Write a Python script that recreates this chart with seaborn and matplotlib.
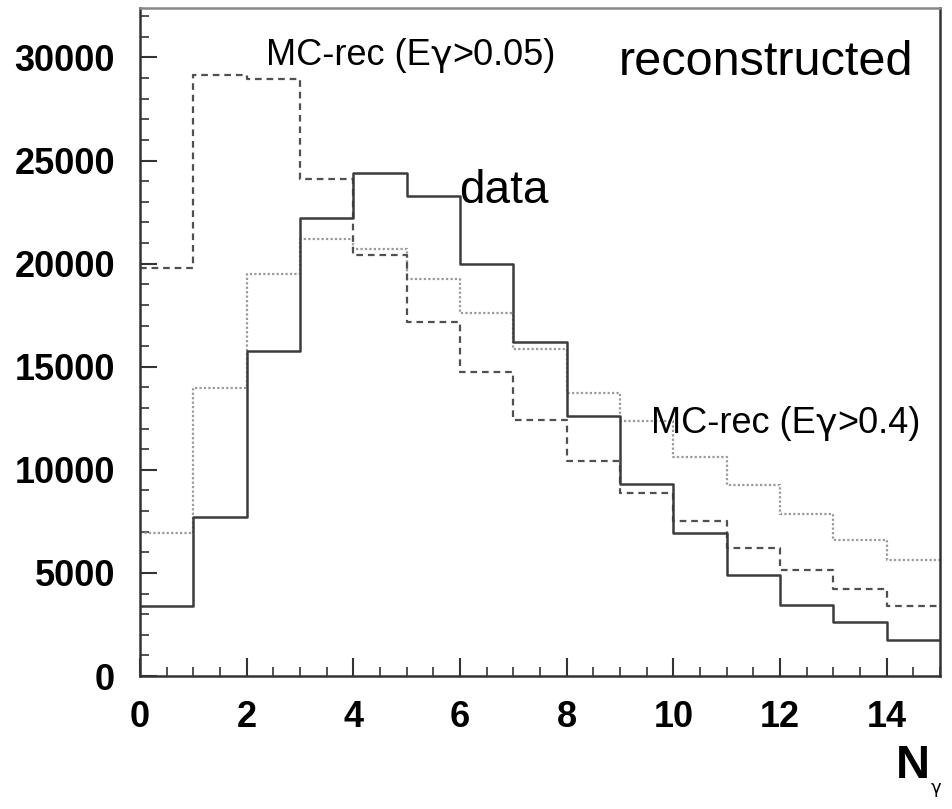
import numpy as np
import pandas as pd
import seaborn as sns
import matplotlib.pyplot as plt
from matplotlib.ticker import MultipleLocator

# bin contents, bins of width 1 from 0 to 15
edges = list(range(16))
n_gamma = [0.5 + i for i in range(15)]
data_counts = [3400, 7700, 15750, 22200, 24400, 23300, 20000, 16200, 12600, 9300, 6950, 4900, 3450, 2600, 1750]
mc_rec_005 = [19800, 29150, 28950, 24100, 20400, 17150, 14750, 12400, 10450, 8900, 7500, 6200, 5150, 4200, 3400]
mc_rec_04 = [6950, 13950, 19500, 21200, 20700, 19250, 17600, 15850, 13750, 12350, 10600, 9250, 7850, 6600, 5650]

df = pd.DataFrame({"Ngamma": n_gamma, "data": data_counts,
                   "mc005": mc_rec_005, "mc04": mc_rec_04})

sns.set_style("ticks")
plt.rcParams['font.family'] = ['Liberation Sans', 'DejaVu Sans']
plt.rcParams['text.color'] = 'black'
plt.rcParams['xtick.color'] = 'black'
plt.rcParams['ytick.color'] = 'black'

W, H = 952, 809
fig = plt.figure(figsize=(W / 100, H / 100), dpi=100)
ax = fig.add_axes([140 / W, 1 - 676 / H, 800 / W, (676 - 8) / H])

sns.histplot(data=df, x="Ngamma", weights="mc04", bins=edges, element="step", fill=False,
             color="#9a9a9a", linestyle=(0, (1, 1)), linewidth=1.6, ax=ax)
sns.histplot(data=df, x="Ngamma", weights="mc005", bins=edges, element="step", fill=False,
             color="#505050", linestyle=(0, (3, 2.2)), linewidth=1.6, ax=ax)
sns.histplot(data=df, x="Ngamma", weights="data", bins=edges, element="step", fill=False,
             color="#3c3c3c", linestyle="-", linewidth=1.8, ax=ax)

ax.set_xlim(0, 15)
ax.set_ylim(0, 32400)
ax.set_xlabel("")
ax.set_ylabel("")
ax.xaxis.set_major_locator(MultipleLocator(2))
ax.xaxis.set_minor_locator(MultipleLocator(0.5))
ax.yaxis.set_major_locator(MultipleLocator(5000))
ax.yaxis.set_minor_locator(MultipleLocator(1000))
ax.tick_params(which="major", direction="in", length=13, width=1.5, color="#333333")
ax.tick_params(which="minor", direction="in", length=6.5, width=1.2, color="#333333")
ax.tick_params(axis="y", which="major", length=12, pad=18)
ax.tick_params(axis="x", which="major", pad=17)
for lab in ax.get_xticklabels() + ax.get_yticklabels():
    lab.set_fontsize(26)
    lab.set_fontweight("bold")
    lab.set_color("black")
for sp in ax.spines.values():
    sp.set_visible(True)
    sp.set_linewidth(1.8)
    sp.set_color("#333333")
ax.spines["top"].set_color("#888888")


def label(x, y, parts, size):
    # parts: list of (string, family); each piece follows the previous one
    prev = fig.text(x / W, 1 - y / H, parts[0][0], ha="left", va="baseline",
                    fontsize=size, family=parts[0][1])
    for s, fam in parts[1:]:
        prev = ax.annotate(s, xy=(1, 0), xycoords=prev, ha="left", va="bottom",
                           fontsize=size, family=fam, annotation_clip=False)


sans = ["Liberation Sans"]
greek = ["DejaVu Sans"]
label(266, 65, [("MC-rec (E", sans), ("γ", greek), (">0.05)", sans)], 26)
label(651, 433, [("MC-rec (E", sans), ("γ", greek), (">0.4)", sans)], 26)
fig.text(619 / W, 1 - 75 / H, "reconstructed", ha="left", va="baseline", fontsize=35)
fig.text(459 / W, 1 - 203 / H, "data", ha="left", va="baseline", fontsize=33)
fig.text(896 / W, 1 - 778 / H, "N", ha="left", va="baseline", fontsize=34, fontweight="bold")
fig.text(931 / W, 1 - 793 / H, "γ", ha="left", va="baseline", fontsize=13, family=greek)

fig.savefig("out.png", dpi=100)
